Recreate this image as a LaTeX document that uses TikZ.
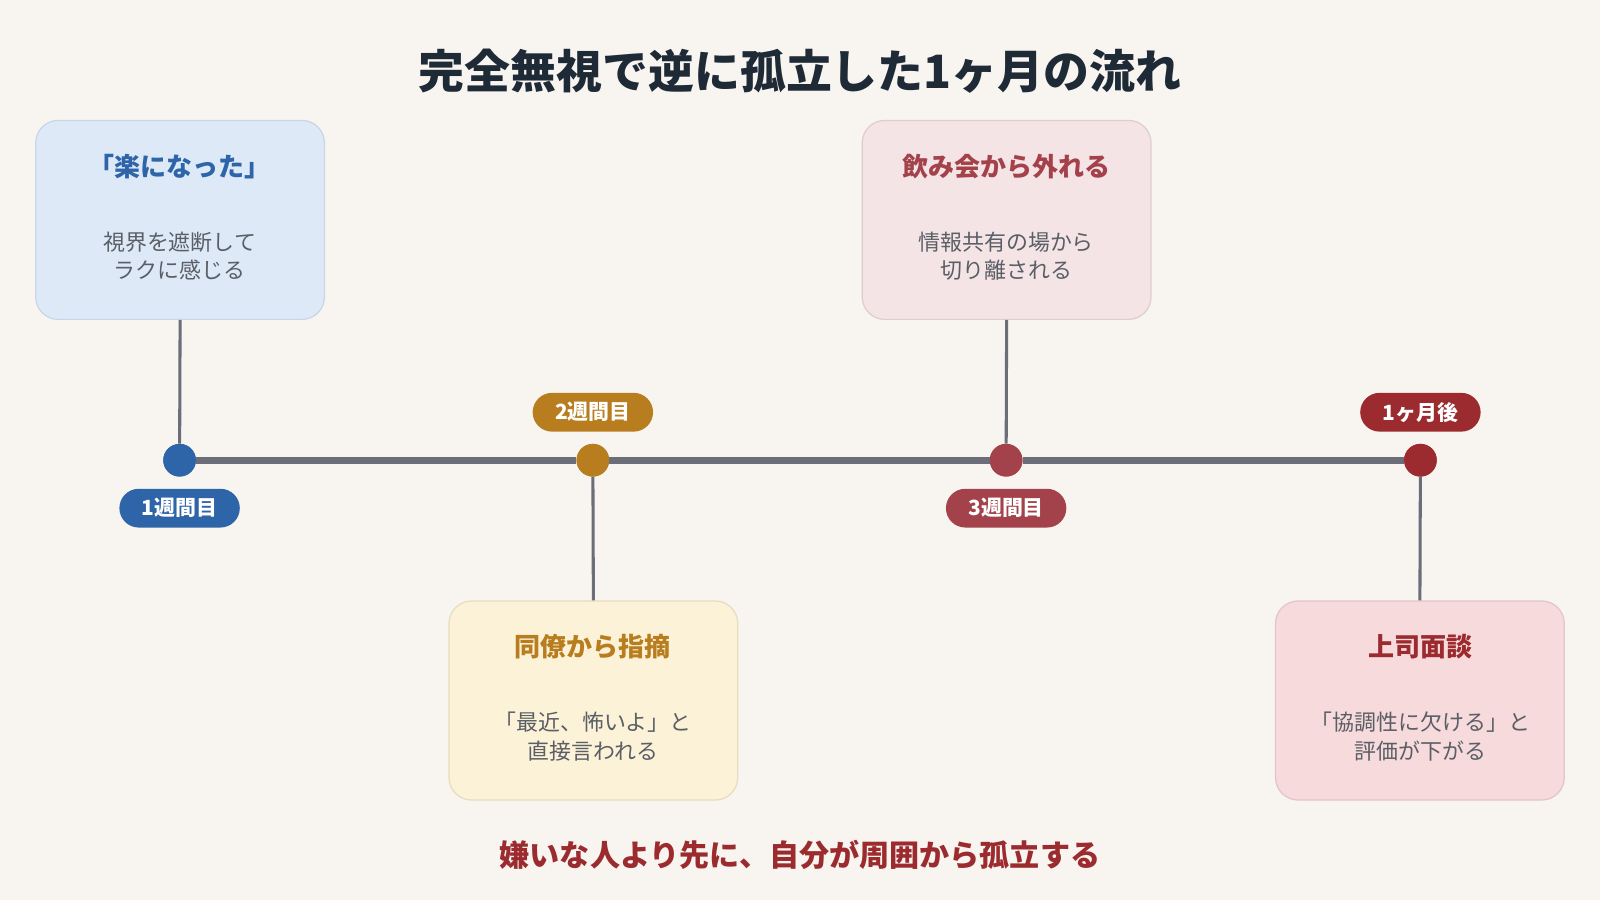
\documentclass[tikz,border=0pt]{standalone}
\usepackage{fontspec}
\setmainfont{Noto Sans CJK JP}
\begin{document}
\begin{tikzpicture}[x=1pt,y=-1pt,
 box/.style={line width=1.2pt, rounded corners=22pt, minimum width=283pt, minimum height=195pt},
 pill/.style={fill=#1, text=white, rounded corners=19pt, minimum width=118pt, minimum height=38pt, font=\fontsize{20.5}{24}\selectfont\bfseries, inner sep=0pt},
 dot/.style={circle, fill=#1, minimum size=32pt, inner sep=0pt},
 conn/.style={draw=linec, line width=3pt},
 ttl/.style={font=\fontsize{25.5}{30}\selectfont\bfseries, text=#1},
 body/.style={font=\fontsize{21.5}{28}\selectfont, text=bodyc, align=center}]
\definecolor{bg}{HTML}{F8F5F0}
\definecolor{linec}{HTML}{6B6E78}
\definecolor{bodyc}{HTML}{5A5F66}
\definecolor{cb}{HTML}{2E64A8}
\definecolor{cg}{HTML}{B87D1E}
\definecolor{cr}{HTML}{A3424A}
\definecolor{cd}{HTML}{9B2B2E}
\definecolor{titlec}{HTML}{1F2A37}
\definecolor{f1}{HTML}{DDE9F7}\definecolor{s1}{HTML}{C8D6E8}
\definecolor{f2}{HTML}{FCF2D8}\definecolor{s2}{HTML}{E6DCC0}
\definecolor{f3}{HTML}{F5E4E6}\definecolor{s3}{HTML}{E0CCCF}
\definecolor{f4}{HTML}{F7DADC}\definecolor{s4}{HTML}{E3C4C7}
\fill[bg] (0,0) rectangle (1568,882);
\useasboundingbox (0,0) rectangle (1568,882);
\node[font=\fontsize{45}{50}\selectfont\bfseries, text=titlec] (title) at (784,70) {完全無視で逆に孤立した1ヶ月の流れ};
% boxes
\node[box, fill=f1, draw=s1] (b1) at (176.5,215.5) {};
\node[box, fill=f2, draw=s2] (b2) at (581.5,686.5) {};
\node[box, fill=f3, draw=s3] (b3) at (986.5,215.5) {};
\node[box, fill=f4, draw=s4] (b4) at (1391.5,686.5) {};
% dots
\node[dot=cb] (d1) at (176,451) {};
\node[dot=cg] (d2) at (581,451) {};
\node[dot=cr] (d3) at (986,451) {};
\node[dot=cd] (d4) at (1392,451) {};
\draw[conn] (b1.south) -- (d1);
\draw[conn] (b2.north) -- (d2);
\draw[conn] (b3.south) -- (d3);
\draw[conn] (b4.north) -- (d4);
\draw[draw=linec, line width=7pt] (d1) -- (d2) -- (d3) -- (d4);
\node[dot=cb] at (d1) {};
\node[dot=cg] at (d2) {};
\node[dot=cr] at (d3) {};
\node[dot=cd] at (d4) {};
% pills
\node[pill=cb] (p1) at (176,498) {1週間目};
\node[pill=cg] (p2) at (581,404) {2週間目};
\node[pill=cr] (p3) at (986,498) {3週間目};
\node[pill=cd] (p4) at (1392,404) {1ヶ月後};
% texts
\node[ttl=cb] (t1) at (176,163) {「楽になった」};
\node[body] (x1) at (176,251) {視界を遮断して\\ラクに感じる};
\node[ttl=cg] (t2) at (581,634) {同僚から指摘};
\node[body] (x2) at (581,722) {「最近、怖いよ」と\\直接言われる};
\node[ttl=cr] (t3) at (986,163) {飲み会から外れる};
\node[body] (x3) at (986,251) {情報共有の場から\\切り離される};
\node[ttl=cd] (t4) at (1392,634) {上司面談};
\node[body] (x4) at (1392,722) {「協調性に欠ける」と\\評価が下がる};
\node[font=\fontsize{29.5}{34}\selectfont\bfseries, text=cd] (concl) at (784,838) {嫌いな人より先に、自分が周囲から孤立する};
\end{tikzpicture}
\end{document}
